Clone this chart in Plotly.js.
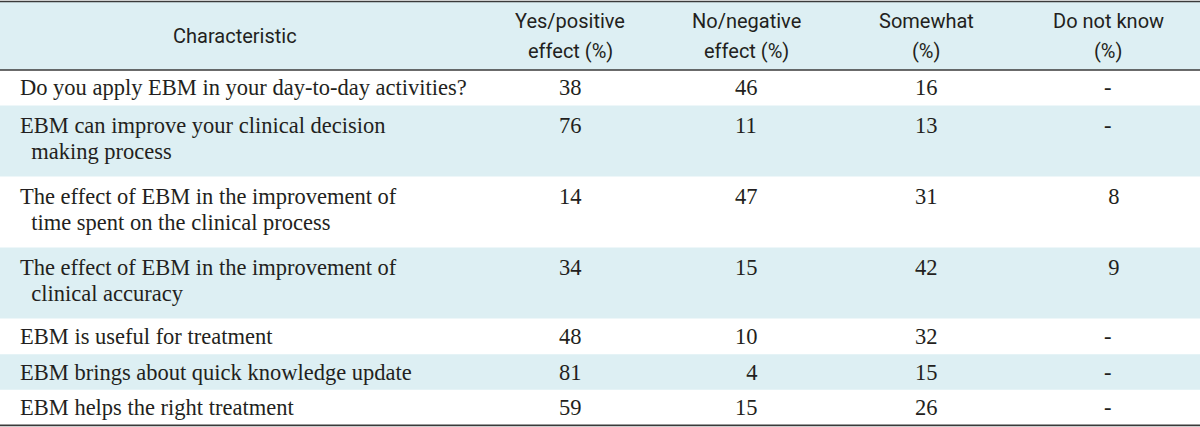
<!DOCTYPE html>
<html>
<head>
<meta charset="utf-8">
<script src="https://cdn.plot.ly/plotly-3.0.1.min.js"></script>
<style>html,body{margin:0;padding:0;background:#fff;}#chart{width:1200px;height:427px;}</style>
</head>
<body>
<div id="chart"></div>
<script>
// ---- data ----
const headers = ["Characteristic", "Yes/positive<br>effect (%)", "No/negative<br>effect (%)", "Somewhat<br>(%)", "Do not know<br>(%)"];
const characteristics = [
  "Do you apply EBM in your day-to-day activities?",
  "EBM can improve your clinical decision<br>making process",
  "The effect of EBM in the improvement of<br>time spent on the clinical process",
  "The effect of EBM in the improvement of<br>clinical accuracy",
  "EBM is useful for treatment",
  "EBM brings about quick knowledge update",
  "EBM helps the right treatment"
];
const yesPositive = [38, 76, 14, 34, 48, 81, 59];
const noNegative = [46, 11, 47, 15, 10, 4, 15];
const somewhat = [16, 13, 31, 42, 32, 15, 26];
const doNotKnow = [null, null, 8, 9, null, null, null];

// ---- layout geometry ----
const W = 1200, H = 427;
const colCenters = [null, 570, 746, 926, 1108];
const textLeft = 18, indent = "\u00a0\u00a0";
const headerTop = 1.5, headerBottom = 70;
const singleH = 35.6, doubleH = 71;
const lineGap = 26.5;
const bandColor = "#ddeff3";
const inkColor = "#231f20";
const bodyFont = {family: "Liberation Serif, Times New Roman, serif", size: 22.5, color: inkColor};
const headFont = {family: "Roboto, Liberation Sans, sans-serif", size: 20, color: inkColor};

const shapes = [];
const annotations = [];

shapes.push({type: "rect", xref: "x", yref: "y", x0: 0, x1: W, y0: headerTop, y1: headerBottom, fillcolor: bandColor, line: {width: 0}, layer: "below"});

function addText(txt, x, y, font, xanchor) {
  annotations.push({text: txt, x: x, y: y, xref: "x", yref: "y", showarrow: false,
    xanchor: xanchor, yanchor: "middle", align: xanchor === "left" ? "left" : "center", font: font});
}

const hMid = (headerTop + headerBottom) / 2;
headers.forEach((h, i) => {
  const lines = h.split("<br>");
  const x = i === 0 ? 235 : colCenters[i];
  lines.forEach((ln, k) => {
    const y = hMid + (k - (lines.length - 1) / 2) * 30;
    addText(ln, x, y, headFont, "center");
  });
});

let rowTop = headerBottom;
characteristics.forEach((c, r) => {
  const lines = c.split("<br>");
  const h = lines.length > 1 ? doubleH : singleH;
  if (r % 2 === 1) {
    shapes.push({type: "rect", xref: "x", yref: "y", x0: 0, x1: W, y0: rowTop, y1: rowTop + h, fillcolor: bandColor, line: {width: 0}, layer: "below"});
  }
  const firstY = rowTop + (lines.length > 1 ? 19.5 : h / 2);
  lines.forEach((ln, k) => {
    addText((k > 0 ? indent : "") + ln, textLeft, firstY + k * lineGap, bodyFont, "left");
  });
  const vals = [yesPositive[r], noNegative[r], somewhat[r], doNotKnow[r]];
  vals.forEach((v, j) => {
    const t = v === null ? "-" : String(v).padStart(2, "\u2007");
    addText(t, colCenters[j + 1], firstY, bodyFont, "center");
  });
  rowTop += h;
});

const ruleColor = "#3a3a3a";
[[headerTop, 1.6], [headerBottom, 1.6], [rowTop, 1.8]].forEach(([y, w]) => {
  shapes.push({type: "line", xref: "x", yref: "y", x0: 0, x1: W, y0: y, y1: y, line: {color: ruleColor, width: w}});
});

const layout = {
  width: W, height: H,
  margin: {l: 0, r: 0, t: 0, b: 0},
  paper_bgcolor: "#ffffff", plot_bgcolor: "#ffffff",
  xaxis: {range: [0, W], visible: false, fixedrange: true},
  yaxis: {range: [H, 0], visible: false, fixedrange: true},
  shapes: shapes,
  annotations: annotations,
  showlegend: false
};

Plotly.newPlot("chart", [{x: [], y: [], type: "scatter", mode: "markers", hoverinfo: "skip"}], layout, {staticPlot: true, displayModeBar: false});
</script>
</body>
</html>
